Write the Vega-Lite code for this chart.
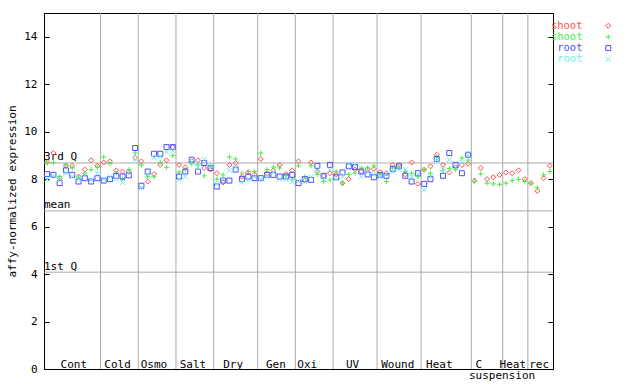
{
  "$schema": "https://vega.github.io/schema/vega-lite/v6.json",
  "width": 509,
  "height": 356,
  "autosize": {"type": "none"},
  "padding": {"left": 44, "top": 13, "right": 87, "bottom": 15},
  "background": "white",
  "config": {
    "font": "DejaVu Sans Mono",
    "view": {"stroke": "black", "strokeWidth": 1},
    "axis": {"labelFont": "DejaVu Sans Mono", "titleFont": "DejaVu Sans Mono", "labelColor": "black", "titleColor": "black"}
  },
  "datasets": {
    "expr": [
      {"x":0.5,"shoot1":8.72,"shoot2":8.68,"root1":8.21,"root2":8.0},
      {"x":1.5,"shoot1":9.10,"shoot2":8.70,"root1":8.18,"root2":8.15},
      {"x":2.5,"shoot1":8.04,"shoot2":8.10,"root1":7.83,"root2":8.0},
      {"x":3.5,"shoot1":8.56,"shoot2":8.60,"root1":8.37,"root2":8.25},
      {"x":4.5,"shoot1":8.56,"shoot2":8.47,"root1":8.18,"root2":8.10},
      {"x":5.5,"shoot1":8.11,"shoot2":8.08,"root1":7.90,"root2":8.0},
      {"x":6.5,"shoot1":8.40,"shoot2":8.25,"root1":8.04,"root2":8.15},
      {"x":7.5,"shoot1":8.79,"shoot2":8.40,"root1":7.90,"root2":7.97},
      {"x":8.5,"shoot1":8.56,"shoot2":8.50,"root1":8.04,"root2":8.25},
      {"x":9.5,"shoot1":8.70,"shoot2":8.93,"root1":7.94,"root2":8.0},
      {"x":10.5,"shoot1":8.75,"shoot2":8.65,"root1":8.0,"root2":8.1},
      {"x":11.5,"shoot1":8.37,"shoot2":8.25,"root1":8.14,"root2":8.0},
      {"x":12.5,"shoot1":8.32,"shoot2":8.0,"root1":8.11,"root2":7.86},
      {"x":13.5,"shoot1":8.30,"shoot2":8.40,"root1":8.16,"root2":8.30},
      {"x":14.5,"shoot1":8.90,"shoot2":9.10,"root1":9.31,"root2":8.82},
      {"x":15.5,"shoot1":8.75,"shoot2":8.60,"root1":7.72,"root2":7.65},
      {"x":16.5,"shoot1":7.90,"shoot2":8.10,"root1":8.32,"root2":8.20},
      {"x":17.5,"shoot1":8.21,"shoot2":8.10,"root1":9.07,"root2":8.90},
      {"x":18.5,"shoot1":8.60,"shoot2":8.70,"root1":9.07,"root2":8.95},
      {"x":19.5,"shoot1":8.79,"shoot2":8.50,"root1":9.35,"root2":9.15},
      {"x":20.5,"shoot1":9.35,"shoot2":8.99,"root1":9.35,"root2":9.20},
      {"x":21.5,"shoot1":8.60,"shoot2":8.30,"root1":8.11,"root2":8.0},
      {"x":22.5,"shoot1":8.50,"shoot2":8.40,"root1":8.32,"root2":8.11},
      {"x":23.5,"shoot1":8.75,"shoot2":8.65,"root1":8.82,"root2":8.70},
      {"x":24.5,"shoot1":8.80,"shoot2":8.60,"root1":8.32,"root2":8.50},
      {"x":25.5,"shoot1":8.47,"shoot2":8.14,"root1":8.68,"root2":8.82},
      {"x":26.5,"shoot1":8.40,"shoot2":8.54,"root1":8.47,"root2":8.60},
      {"x":27.5,"shoot1":8.25,"shoot2":8.0,"root1":7.69,"root2":7.80},
      {"x":28.5,"shoot1":7.86,"shoot2":8.18,"root1":7.94,"root2":8.0},
      {"x":29.5,"shoot1":8.60,"shoot2":8.93,"root1":7.94,"root2":8.36},
      {"x":30.5,"shoot1":8.68,"shoot2":8.85,"root1":8.40,"root2":8.50},
      {"x":31.5,"shoot1":8.10,"shoot2":8.25,"root1":8.0,"root2":7.86},
      {"x":32.5,"shoot1":8.28,"shoot2":8.32,"root1":8.11,"root2":7.97},
      {"x":33.5,"shoot1":8.20,"shoot2":8.32,"root1":8.04,"root2":8.10},
      {"x":34.5,"shoot1":8.85,"shoot2":9.10,"root1":8.04,"root2":8.0},
      {"x":35.5,"shoot1":8.25,"shoot2":8.40,"root1":8.18,"root2":8.10},
      {"x":36.5,"shoot1":8.37,"shoot2":8.51,"root1":8.18,"root2":8.30},
      {"x":37.5,"shoot1":8.60,"shoot2":8.47,"root1":8.11,"root2":8.0},
      {"x":38.5,"shoot1":8.22,"shoot2":8.15,"root1":8.11,"root2":8.0},
      {"x":39.5,"shoot1":8.37,"shoot2":8.0,"root1":8.18,"root2":7.90},
      {"x":40.5,"shoot1":8.75,"shoot2":8.56,"root1":7.83,"root2":7.90},
      {"x":41.5,"shoot1":7.95,"shoot2":8.10,"root1":8.0,"root2":7.90},
      {"x":42.5,"shoot1":8.70,"shoot2":8.56,"root1":7.97,"root2":8.10},
      {"x":43.5,"shoot1":8.32,"shoot2":8.20,"root1":8.56,"root2":8.36},
      {"x":44.5,"shoot1":8.14,"shoot2":7.90,"root1":8.14,"root2":8.0},
      {"x":45.5,"shoot1":8.25,"shoot2":7.97,"root1":8.60,"root2":8.40},
      {"x":46.5,"shoot1":8.20,"shoot2":8.32,"root1":8.08,"root2":8.0},
      {"x":47.5,"shoot1":7.83,"shoot2":7.83,"root1":8.28,"root2":8.10},
      {"x":48.5,"shoot1":8.0,"shoot2":8.20,"root1":8.54,"root2":8.65},
      {"x":49.5,"shoot1":8.40,"shoot2":8.25,"root1":8.51,"root2":8.60},
      {"x":50.5,"shoot1":8.32,"shoot2":8.47,"root1":8.32,"root2":8.11},
      {"x":51.5,"shoot1":8.43,"shoot2":8.47,"root1":8.20,"root2":8.30},
      {"x":52.5,"shoot1":8.43,"shoot2":8.56,"root1":8.08,"root2":8.20},
      {"x":53.5,"shoot1":8.30,"shoot2":8.20,"root1":8.18,"root2":8.10},
      {"x":54.5,"shoot1":8.25,"shoot2":7.90,"root1":8.14,"root2":8.20},
      {"x":55.5,"shoot1":8.60,"shoot2":8.47,"root1":8.43,"root2":8.30},
      {"x":56.5,"shoot1":8.60,"shoot2":8.50,"root1":8.54,"root2":8.40},
      {"x":57.5,"shoot1":8.20,"shoot2":8.32,"root1":8.14,"root2":8.40},
      {"x":58.5,"shoot1":8.70,"shoot2":8.25,"root1":7.90,"root2":8.10},
      {"x":59.5,"shoot1":7.80,"shoot2":8.10,"root1":8.25,"root2":8.20},
      {"x":60.5,"shoot1":8.40,"shoot2":8.40,"root1":7.80,"root2":7.55},
      {"x":61.5,"shoot1":8.54,"shoot2":8.25,"root1":8.0,"root2":8.10},
      {"x":62.5,"shoot1":9.03,"shoot2":8.93,"root1":8.85,"root2":8.80},
      {"x":63.5,"shoot1":8.60,"shoot2":8.37,"root1":8.14,"root2":8.40},
      {"x":64.5,"shoot1":8.28,"shoot2":8.45,"root1":9.10,"root2":8.82},
      {"x":65.5,"shoot1":8.50,"shoot2":8.40,"root1":8.60,"root2":8.50},
      {"x":66.5,"shoot1":8.60,"shoot2":8.89,"root1":8.25,"root2":8.70},
      {"x":67.5,"shoot1":8.65,"shoot2":8.80,"root1":9.03,"root2":9.03},
      {"x":68.5,"shoot1":7.94,"shoot2":7.90},
      {"x":69.5,"shoot1":8.47,"shoot2":8.22},
      {"x":70.5,"shoot1":8.0,"shoot2":7.83},
      {"x":71.5,"shoot1":8.08,"shoot2":7.80},
      {"x":72.5,"shoot1":8.18,"shoot2":7.78},
      {"x":73.5,"shoot1":8.28,"shoot2":7.83},
      {"x":74.5,"shoot1":8.25,"shoot2":7.94},
      {"x":75.5,"shoot1":8.37,"shoot2":8.0},
      {"x":76.5,"shoot1":8.0,"shoot2":7.90},
      {"x":77.5,"shoot1":7.83,"shoot2":7.83},
      {"x":78.5,"shoot1":7.50,"shoot2":7.64},
      {"x":79.5,"shoot1":8.04,"shoot2":8.18},
      {"x":80.5,"shoot1":8.56,"shoot2":8.32}
    ],
    "bounds": [{"b":9},{"b":15},{"b":21},{"b":27},{"b":34},{"b":40},{"b":46},{"b":53},{"b":60},{"b":68},{"b":73},{"b":77}],
    "stats": [{"q":"3rd Q","v":8.68},{"q":"mean","v":6.66},{"q":"1st Q","v":4.08}],
    "groups": [
      {"t":"Cont","x":4.75},{"t":"Cold","x":11.7},{"t":"Osmo","x":17.5},{"t":"Salt","x":23.7},
      {"t":"Dry","x":30.1},{"t":"Gen","x":36.9},{"t":"Oxi","x":41.9},{"t":"UV","x":49.1},
      {"t":"Wound","x":56.3},{"t":"Heat","x":62.9},{"t":"C","x":69.2},{"t":"Heat","x":74.6},{"t":"rec","x":78.8}
    ]
  },
  "resolve": {"axis": {"y": "independent"}},
  "layer": [
    {
      "data": {"name": "bounds"},
      "mark": {"type": "rule", "color": "#aaaaaa", "strokeWidth": 1},
      "encoding": {
        "x": {"field": "b", "type": "quantitative", "scale": {"domain": [0, 81], "nice": false, "zero": false}, "axis": null}
      }
    },
    {
      "data": {"name": "stats"},
      "mark": {"type": "rule", "color": "#aaaaaa", "strokeWidth": 1},
      "encoding": {
        "y": {"field": "v", "type": "quantitative", "scale": {"domain": [0, 15], "nice": false, "zero": true},
              "axis": {"orient": "right", "values": [0,2,4,6,8,10,12,14], "labels": false, "grid": false, "domain": false, "tickSize": -5, "tickColor": "black", "title": null}}
      }
    },
    {
      "data": {"name": "stats"},
      "mark": {"type": "text", "align": "left", "baseline": "alphabetic", "dy": -2.5, "fontSize": 11, "color": "black"},
      "encoding": {
        "x": {"datum": 0, "type": "quantitative"},
        "y": {"field": "v", "type": "quantitative", "axis": null},
        "text": {"field": "q"}
      }
    },
    {
      "data": {"name": "expr"},
      "transform": [
        {"fold": ["shoot1", "shoot2", "root1", "root2"], "as": ["s", "val"]},
        {"filter": "isValid(datum.val)"}
      ],
      "mark": {"type": "point", "filled": false, "strokeWidth": 1, "size": 25, "opacity": 1},
      "encoding": {
        "x": {"field": "x", "type": "quantitative"},
        "y": {"field": "val", "type": "quantitative",
              "axis": {"orient": "left", "values": [0,2,4,6,8,10,12,14], "grid": false, "domainColor": "black", "tickColor": "black", "tickSize": -5, "labelPadding": 12, "labelFontSize": 11,
                       "title": "affy-normalized expression", "titleFontSize": 11, "titleFontWeight": "normal", "titleX": -32, "titleY": 178, "titleAlign": "center", "titleBaseline": "middle"}},
        "color": {"field": "s", "type": "nominal",
                  "scale": {"domain": ["shoot1", "shoot2", "root1", "root2"], "range": ["#ff4d4d", "#44ee44", "#4d4dff", "#66eeee"]},
                  "legend": {"orient": "none", "legendX": 559, "legendY": 7.5, "title": null, "padding": 0, "rowPadding": 0.2,
                             "labelAlign": "right", "labelOffset": -31, "labelFontSize": 10.5, "labelFont": "DejaVu Sans Mono",
                             "labelColor": {"expr": "scale('color', datum.value)"},
                             "symbolSize": 25, "symbolStrokeWidth": 1,
                             "labelExpr": "slice(datum.label, 0, length(datum.label) - 1)"}},
        "shape": {"field": "s", "type": "nominal",
                  "scale": {"domain": ["shoot1", "shoot2", "root1", "root2"], "range": ["diamond", "M-1,0L1,0M0,-1L0,1", "square", "M-1,-1L1,1M-1,1L1,-1"]}}
      }
    },
    {
      "data": {"name": "groups"},
      "mark": {"type": "text", "align": "center", "baseline": "alphabetic", "fontSize": 11, "color": "black"},
      "encoding": {
        "x": {"field": "x", "type": "quantitative"},
        "y": {"datum": 0.05, "type": "quantitative", "axis": null},
        "text": {"field": "t"}
      }
    },
    {
      "data": {"values": [{"t": "suspension", "x": 72.9}]},
      "mark": {"type": "text", "align": "center", "baseline": "middle", "fontSize": 11, "color": "black", "clip": false},
      "encoding": {
        "x": {"field": "x", "type": "quantitative"},
        "y": {"datum": -0.31, "type": "quantitative", "axis": null},
        "text": {"field": "t"}
      }
    }
  ]
}
